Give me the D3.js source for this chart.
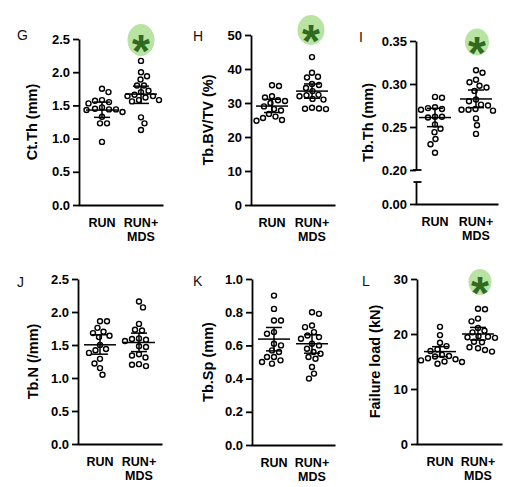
<!DOCTYPE html>
<html><head><meta charset="utf-8">
<script src="https://cdn.jsdelivr.net/npm/d3@7"></script>
<style>
body{margin:0;background:#fff}
svg{display:block}
text{font-family:"Liberation Sans",Arial,Helvetica,sans-serif}
</style>
</head><body>
<svg id="chart" width="532" height="487"></svg>
<script>
// ---------------- DATA ----------------
const categories = ["RUN", "RUN+MDS"];
const categoryLines = [["RUN"], ["RUN+", "MDS"]];
const panelLetters = ["G", "H", "I", "J", "K", "L"];
const axisTitles = ["Ct.Th (mm)", "Tb.BV/TV (%)", "Tb.Th (mm)", "Tb.N (/mm)", "Tb.Sp (mm)", "Failure load (kN)"];
const significant = [true, true, true, false, false, true];

const ctThRun = [1.75, 1.70, 1.58, 1.55, 1.53, 1.57, 1.47, 1.45, 1.44, 1.44, 1.43, 1.40, 1.33, 1.23, 1.23, 0.95];
const ctThMds = [2.17, 2.00, 1.94, 1.89, 1.80, 1.80, 1.72, 1.70, 1.66, 1.64, 1.64, 1.62, 1.58, 1.58, 1.56, 1.32, 1.23, 1.13];
const ctThMean = [1.43, 1.67];
const ctThErrLow = [1.32, 1.53];
const ctThErrHigh = [1.55, 1.79];
const ctThTicks = [0, 0.5, 1.0, 1.5, 2.0, 2.5];

const bvTvRun = [35.2, 35.0, 32.0, 31.6, 30.8, 30.6, 30.0, 29.0, 28.2, 27.8, 26.8, 26.0, 25.6, 25.0, 24.8];
const bvTvMds = [43.5, 38.9, 37.7, 37.5, 35.6, 35.3, 34.4, 33.5, 32.4, 32.3, 32.0, 31.2, 31.0, 28.6, 28.4, 28.3, 28.2];
const bvTvMean = [29.1, 33.5];
const bvTvErrLow = [27.2, 31.4];
const bvTvErrHigh = [31.1, 35.6];
const bvTvTicks = [0, 10, 20, 30, 40, 50];

const tbThRun = [0.285, 0.284, 0.273, 0.272, 0.271, 0.270, 0.262, 0.262, 0.261, 0.253, 0.248, 0.244, 0.236, 0.230, 0.220];
const tbThMds = [0.316, 0.313, 0.305, 0.302, 0.298, 0.296, 0.292, 0.282, 0.280, 0.276, 0.275, 0.271, 0.270, 0.270, 0.269, 0.260, 0.252, 0.242];
const tbThMean = [0.261, 0.2826];
const tbThErrLow = [0.2504, 0.2725];
const tbThErrHigh = [0.2717, 0.293];
const tbThTicksUpper = [0.20, 0.25, 0.30, 0.35];
const tbThTicksLower = [0.00];

const tbNRun = [1.86, 1.86, 1.76, 1.70, 1.68, 1.64, 1.62, 1.50, 1.44, 1.42, 1.38, 1.29, 1.22, 1.15, 1.05];
const tbNMds = [2.16, 2.07, 1.82, 1.73, 1.72, 1.60, 1.59, 1.58, 1.56, 1.48, 1.47, 1.36, 1.34, 1.31, 1.21, 1.20, 1.18];
const tbNMean = [1.503, 1.538];
const tbNErrLow = [1.361, 1.40];
const tbNErrHigh = [1.655, 1.68];
const tbNTicks = [0, 0.5, 1.0, 1.5, 2.0, 2.5];

const tbSpRun = [0.90, 0.82, 0.75, 0.75, 0.68, 0.67, 0.61, 0.60, 0.57, 0.56, 0.53, 0.53, 0.51, 0.50, 0.49];
const tbSpMds = [0.80, 0.79, 0.72, 0.71, 0.68, 0.66, 0.65, 0.64, 0.61, 0.60, 0.58, 0.56, 0.55, 0.53, 0.52, 0.47, 0.43, 0.40];
const tbSpMean = [0.638, 0.61];
const tbSpErrLow = [0.567, 0.553];
const tbSpErrHigh = [0.708, 0.664];
const tbSpTicks = [0, 0.2, 0.4, 0.6, 0.8, 1.0];

const loadRun = [21.3, 19.8, 18.4, 17.8, 17.2, 16.9, 16.2, 16.0, 15.9, 15.6, 15.4, 15.2, 15.0, 14.9, 14.6];
const loadMds = [24.6, 24.5, 22.8, 22.3, 21.1, 20.6, 20.3, 19.6, 19.5, 19.4, 19.3, 18.6, 18.5, 17.6, 17.4, 17.1, 16.8];
const loadMean = [16.8, 20.0];
const loadErrLow = [15.9, 18.9];
const loadErrHigh = [17.7, 21.2];
const loadTicks = [0, 10, 20, 30];

// ---------------- LAYOUT ----------------
const panels = [
  {values:[ctThRun, ctThMds], mean:ctThMean, lo:ctThErrLow, hi:ctThErrHigh, ticks:ctThTicks, fmt:".1f",
   x0:79, xEnd:163, yTop:39, yBot:205, cx:[102,141], titleX:32, letter:[17,40], sig:{cx:141,cy:40,rx:13.5,ry:16}},
  {values:[bvTvRun, bvTvMds], mean:bvTvMean, lo:bvTvErrLow, hi:bvTvErrHigh, ticks:bvTvTicks, fmt:"d",
   x0:251, xEnd:335, yTop:35, yBot:205, cx:[272,312], titleX:208, letter:[193,41], sig:{cx:311,cy:30,rx:13.5,ry:15}},
  {values:[tbThRun, tbThMds], mean:tbThMean, lo:tbThErrLow, hi:tbThErrHigh, ticks:tbThTicksUpper, fmt:".2f", broken:true,
   x0:416, xEnd:498, yTop:41, yBot:204, yBreakUpper:170, yBreakLower:182, cx:[435,476], titleX:368, letter:[359,42], sig:{cx:477,cy:42,rx:12,ry:13.5}},
  {values:[tbNRun, tbNMds], mean:tbNMean, lo:tbNErrLow, hi:tbNErrHigh, ticks:tbNTicks, fmt:".1f",
   x0:78, xEnd:162, yTop:279, yBot:444, cx:[100,139], titleX:33, letter:[17,287]},
  {values:[tbSpRun, tbSpMds], mean:tbSpMean, lo:tbSpErrLow, hi:tbSpErrHigh, ticks:tbSpTicks, fmt:".1f",
   x0:252, xEnd:335, yTop:279, yBot:445, cx:[274,312], titleX:208, letter:[193,286]},
  {values:[loadRun, loadMds], mean:loadMean, lo:loadErrLow, hi:loadErrHigh, ticks:loadTicks, fmt:"d",
   x0:417, xEnd:502, yTop:279, yBot:444, cx:[440,478], titleX:375, letter:[362,286], sig:{cx:480,cy:282,rx:11.5,ry:13}}
];

const svg = d3.select("#chart");
const AX = 1.8;

function swarm(ys, D) {
  const order = ys.map((y, i) => i).sort((a, b) => ys[a] - ys[b]);
  const placed = [], xs = new Array(ys.length);
  let flip = 1;
  for (const i of order) {
    let best = null;
    for (let k = 0; k < 400 && best === null; k++) {
      const cands = k === 0 ? [0] : [flip * k * 0.5, -flip * k * 0.5];
      for (const dx of cands) {
        if (placed.every(p => (p.x - dx) ** 2 + (p.y - ys[i]) ** 2 >= D * D)) { best = dx; break; }
      }
    }
    if (best !== 0) flip = -flip;
    xs[i] = best; placed.push({x: best, y: ys[i]});
  }
  return xs;
}

function styleAxis(g) {
  g.selectAll("path.domain").attr("stroke", "#000").attr("stroke-width", AX);
  g.selectAll(".tick line").attr("stroke", "#000").attr("stroke-width", AX);
  g.selectAll(".tick text").attr("font-size", 13).attr("font-weight", "bold").attr("fill", "#000")
    .attr("font-family", '"Liberation Sans",Arial,sans-serif');
}

panels.forEach((p, pi) => {
  const g = svg.append("g");
  let y;
  if (p.broken) {
    const yU = d3.scaleLinear().domain([0.20, 0.35]).range([p.yBreakUpper, p.yTop]);
    const yL = d3.scaleLinear().domain([0, 0.02]).range([p.yBot, p.yBreakLower]);
    y = yU;
    const aU = g.append("g").attr("transform", `translate(${p.x0},0)`)
      .call(d3.axisLeft(yU).tickValues(p.ticks).tickFormat(d3.format(p.fmt)).tickSize(6).tickSizeOuter(0).tickPadding(3));
    styleAxis(aU);
    const aL = g.append("g").attr("transform", `translate(${p.x0},0)`)
      .call(d3.axisLeft(yL).tickValues(tbThTicksLower).tickFormat(d3.format(p.fmt)).tickSize(6).tickSizeOuter(0).tickPadding(3));
    styleAxis(aL);
    g.append("line").attr("x1", p.x0 - 3).attr("x2", p.x0 + 5.5).attr("y1", yU(0.20)).attr("y2", yU(0.20))
      .attr("stroke", "#000").attr("stroke-width", AX);
    g.append("line").attr("x1", p.x0 - 2.5).attr("x2", p.x0 + 5.5).attr("y1", p.yBreakLower).attr("y2", p.yBreakLower)
      .attr("stroke", "#000").attr("stroke-width", AX);
  } else {
    y = d3.scaleLinear().domain([0, d3.max(p.ticks)]).range([p.yBot, p.yTop]);
    const a = g.append("g").attr("transform", `translate(${p.x0},0)`)
      .call(d3.axisLeft(y).tickValues(p.ticks).tickFormat(d3.format(p.fmt)).tickSize(6).tickSizeOuter(0).tickPadding(3));
    styleAxis(a);
  }
  const xLin = d3.scaleLinear().domain([0, 1]).range([p.x0 - AX / 2, p.xEnd]);
  const xa = g.append("g").attr("transform", `translate(0,${p.yBot})`)
    .call(d3.axisBottom(xLin).tickValues([]).tickSizeOuter(0));
  styleAxis(xa);
  const x = d3.scalePoint().domain(categories).range(p.cx);
  const lab = g.append("g");
  categories.forEach((c, ci) => {
    const t = lab.append("text").attr("x", x(c)).attr("y", p.yBot + 22)
      .attr("text-anchor", "middle").attr("font-size", 12.5).attr("font-weight", "bold");
    categoryLines[ci].forEach((ln, li) => {
      t.append("tspan").attr("x", x(c)).attr("dy", li === 0 ? 0 : 14).text(ln);
    });
  });
  const midY = (p.yTop + p.yBot) / 2;
  g.append("text").attr("transform", `translate(${p.titleX},${midY}) rotate(-90)`)
    .attr("text-anchor", "middle").attr("dominant-baseline", "central")
    .attr("font-size", 14.5).attr("font-weight", "bold").text(axisTitles[pi]);
  g.append("text").attr("x", p.letter[0]).attr("y", p.letter[1]).attr("font-size", 14).attr("fill", "#111")
    .text(panelLetters[pi]);
  categories.forEach((c, ci) => {
    const vals = p.values[ci];
    const ys = vals.map(v => y(v));
    const xs = swarm(ys, 6.9);
    g.append("g").selectAll("circle").data(vals).join("circle")
      .attr("cx", (d, i) => x(c) + xs[i]).attr("cy", d => y(d)).attr("r", 2.5)
      .attr("fill", "none").attr("stroke", "#000").attr("stroke-width", 1.4);
    const cx = x(c);
    const eg = g.append("g").attr("stroke", "#000").attr("stroke-width", 1.5);
    eg.append("line").attr("x1", cx - 16).attr("x2", cx + 16).attr("y1", y(p.mean[ci])).attr("y2", y(p.mean[ci]));
    eg.append("line").attr("x1", cx).attr("x2", cx).attr("y1", y(p.lo[ci])).attr("y2", y(p.hi[ci]));
    eg.append("line").attr("x1", cx - 8).attr("x2", cx + 8).attr("y1", y(p.lo[ci])).attr("y2", y(p.lo[ci]));
    eg.append("line").attr("x1", cx - 8).attr("x2", cx + 8).attr("y1", y(p.hi[ci])).attr("y2", y(p.hi[ci]));
  });
  if (significant[pi] && p.sig) {
    g.append("ellipse").attr("cx", p.sig.cx).attr("cy", p.sig.cy).attr("rx", p.sig.rx).attr("ry", p.sig.ry)
      .attr("fill", "#b8e3a2");
    g.append("text").attr("x", p.sig.cx).attr("y", p.sig.cy + 27).attr("text-anchor", "middle")
      .attr("font-size", 46).attr("font-weight", "bold").attr("fill", "#2f6a1f").text("*");
  }
});
</script>
</body></html>
